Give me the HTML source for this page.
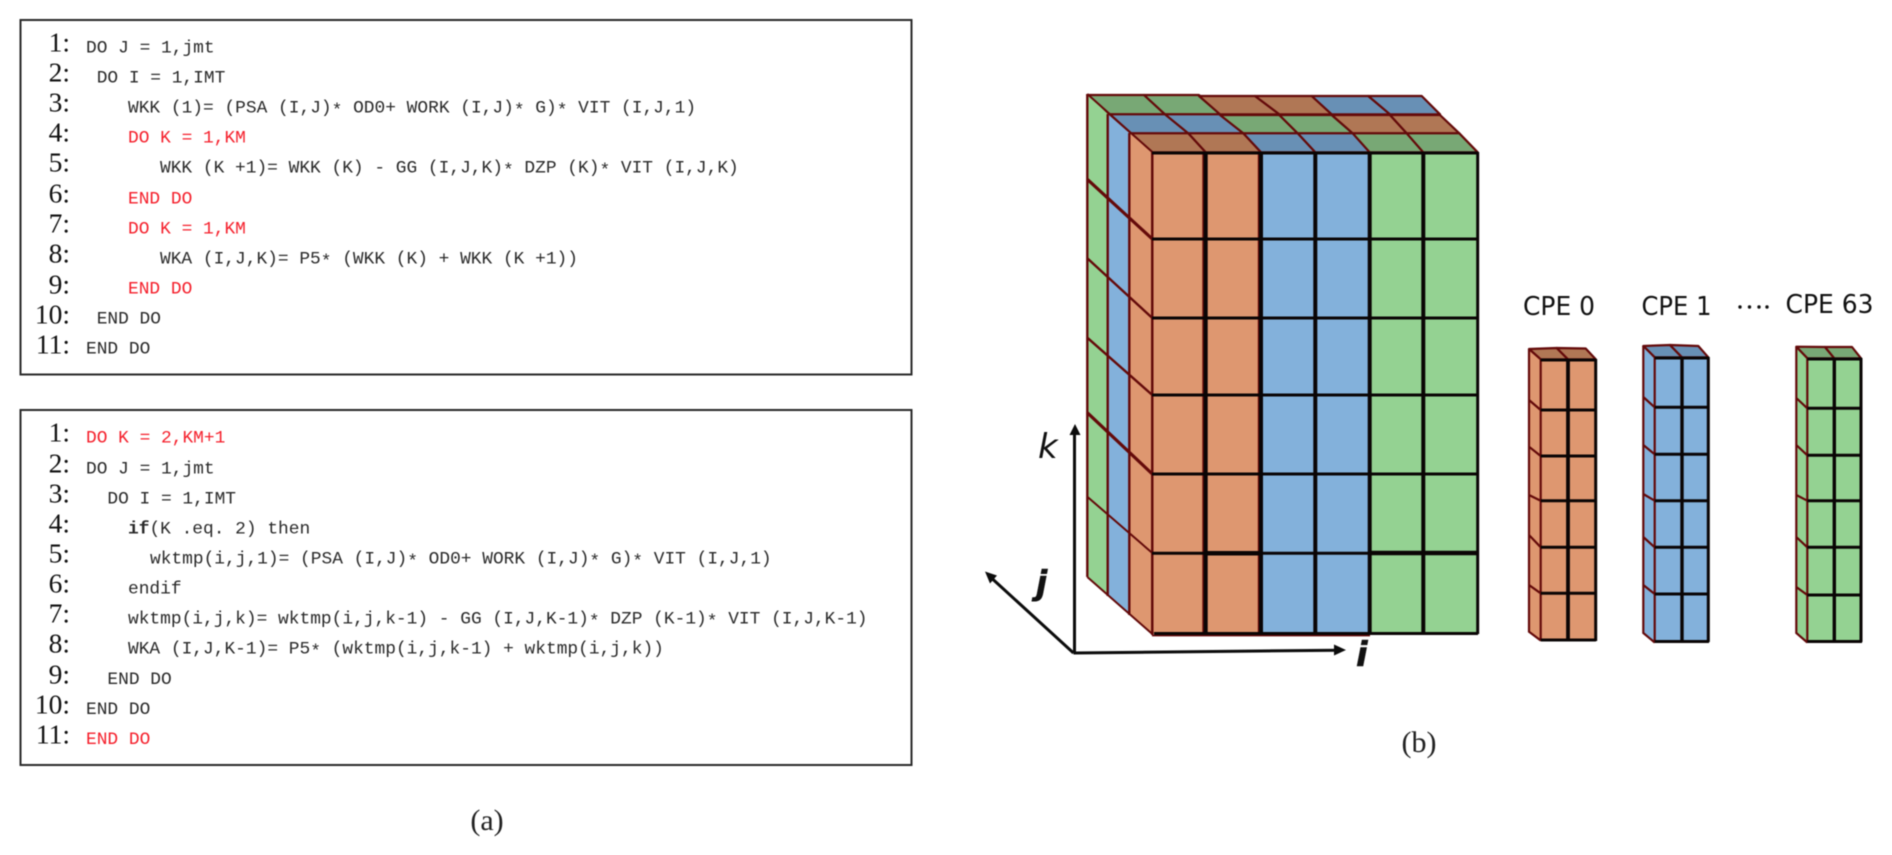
<!DOCTYPE html>
<html><head><meta charset="utf-8"><style>
html,body{margin:0;padding:0;background:#fff}
svg{display:block;filter:blur(.4px)}
.n{font:27.5px "Liberation Serif",serif;fill:#111;text-anchor:end}
.c{font:17.87px "Liberation Mono",monospace;fill:#2a2a2a;white-space:pre}
.s{baseline-shift:-3px}
.r{fill:#f5202c}
.l{font:30px "Liberation Serif",serif;fill:#222;text-anchor:middle}
.p{font:26px "DejaVu Sans",sans-serif;fill:#111}
.o{fill:#DE9770}.b{fill:#83B1DB}.g{fill:#94D292}
.to{fill:#B07755}.tb{fill:#6890B5}.tg{fill:#78A875}
.tp polygon{stroke:#640a0a;stroke-width:2.2;stroke-linejoin:round}
</style></head><body>
<svg width="1892" height="855" viewBox="0 0 1892 855" xmlns="http://www.w3.org/2000/svg">
<rect width="1892" height="855" fill="#fff"/>
<rect x="20.5" y="20" width="891" height="354.5" fill="#fff" stroke="#2a2a2a" stroke-width="2"/>
<rect x="20.5" y="410" width="891" height="355" fill="#fff" stroke="#2a2a2a" stroke-width="2"/>

<g class="n">
<text x="70" y="51.7">1:</text><text x="70" y="81.7">2:</text><text x="70" y="111.7">3:</text><text x="70" y="141.7">4:</text><text x="70" y="171.7">5:</text><text x="70" y="202.7">6:</text><text x="70" y="232.7">7:</text><text x="70" y="262.7">8:</text><text x="70" y="293.3">9:</text><text x="70" y="323.3">10:</text><text x="70" y="353.3">11:</text>
<text x="70" y="441.7">1:</text><text x="70" y="472.7">2:</text><text x="70" y="502.7">3:</text><text x="70" y="532.7">4:</text><text x="70" y="562.7">5:</text><text x="70" y="592.7">6:</text><text x="70" y="622.7">7:</text><text x="70" y="652.7">8:</text><text x="70" y="683.3">9:</text><text x="70" y="713.3">10:</text><text x="70" y="743.3">11:</text>
</g>

<g class="c">
<text x="86" y="52.7">DO J = 1,jmt</text>
<text x="96.7" y="82.7">DO I = 1,IMT</text>
<text x="128" y="112.7">WKK (1)= (PSA (I,J)<tspan class="s">*</tspan> OD0+ WORK (I,J)<tspan class="s">*</tspan> G)<tspan class="s">*</tspan> VIT (I,J,1)</text>
<text x="128" y="142.7" class="c r">DO K = 1,KM</text>
<text x="160" y="172.7">WKK (K +1)= WKK (K) - GG (I,J,K)<tspan class="s">*</tspan> DZP (K)<tspan class="s">*</tspan> VIT (I,J,K)</text>
<text x="128" y="203.3" class="c r">END DO</text>
<text x="128" y="233.3" class="c r">DO K = 1,KM</text>
<text x="160" y="263.3">WKA (I,J,K)= P5<tspan class="s">*</tspan> (WKK (K) + WKK (K +1))</text>
<text x="128" y="293.3" class="c r">END DO</text>
<text x="96.7" y="323.3">END DO</text>
<text x="86" y="353.3">END DO</text>

<text x="86" y="442.7" class="c r">DO K = 2,KM+1</text>
<text x="86" y="473.3">DO J = 1,jmt</text>
<text x="107.4" y="503.3">DO I = 1,IMT</text>
<text x="128" y="533.3"><tspan font-weight="bold">if</tspan>(K .eq. 2) then</text>
<text x="150" y="563.3">wktmp(i,j,1)= (PSA (I,J)<tspan class="s">*</tspan> OD0+ WORK (I,J)<tspan class="s">*</tspan> G)<tspan class="s">*</tspan> VIT (I,J,1)</text>
<text x="128" y="593.3">endif</text>
<text x="128" y="623.3">wktmp(i,j,k)= wktmp(i,j,k-1) - GG (I,J,K-1)<tspan class="s">*</tspan> DZP (K-1)<tspan class="s">*</tspan> VIT (I,J,K-1)</text>
<text x="128" y="653.3">WKA (I,J,K-1)= P5<tspan class="s">*</tspan> (wktmp(i,j,k-1) + wktmp(i,j,k))</text>
<text x="107.4" y="684">END DO</text>
<text x="86" y="714">END DO</text>
<text x="86" y="744" class="c r">END DO</text>
</g>

<text class="l" x="487" y="830">(a)</text>
<text class="l" x="1419" y="752">(b)</text>

<!-- big cube: top faces -->
<g class="tp">
<polygon class="tg" points="1087.3,95 1144,95 1165,114.3 1107.7,114.3"/>
<polygon class="tg" points="1144,95 1199,95 1220,114.3 1165,114.3"/>
<polygon class="to" points="1199,96 1255,96 1279.3,114.3 1220,114.3"/>
<polygon class="to" points="1255,96 1311.7,96 1331.7,114.3 1279.3,114.3"/>
<polygon class="tb" points="1311.7,96 1368.3,96 1390,114.3 1331.7,114.3"/>
<polygon class="tb" points="1368.3,96 1421.7,96 1440,114.3 1390,114.3"/>

<polygon class="tb" points="1107.7,114.3 1165,114.3 1188.3,133.3 1129.3,133.3"/>
<polygon class="tb" points="1165,114.3 1220,114.3 1243.3,133.3 1188.3,133.3"/>
<polygon class="tg" points="1220,115 1279.3,115 1297.7,133.3 1243.3,133.3"/>
<polygon class="tg" points="1279.3,115 1331.7,115 1352.7,133.3 1297.7,133.3"/>
<polygon class="to" points="1331.7,115 1390,115 1406.7,133.3 1352.7,133.3"/>
<polygon class="to" points="1390,115 1440,115 1459.3,133.3 1406.7,133.3"/>

<polygon class="to" points="1129.3,133.3 1188.3,133.3 1205.7,152.3 1152.3,152.3"/>
<polygon class="to" points="1188.3,133.3 1243.3,133.3 1261,152.3 1205.7,152.3"/>
<polygon class="tb" points="1243.3,133.3 1297.7,133.3 1315.3,152.3 1261,152.3"/>
<polygon class="tb" points="1297.7,133.3 1352.7,133.3 1369.7,152.3 1315.3,152.3"/>
<polygon class="tg" points="1352.7,133.3 1406.7,133.3 1423.3,152.3 1369.7,152.3"/>
<polygon class="tg" points="1406.7,133.3 1459.3,133.3 1477.7,152.3 1423.3,152.3"/>
</g>

<!-- big cube: side strips -->
<polygon class="g" points="1087.3,94 1107.7,114 1107.7,596 1087.3,577"/>
<polygon class="b" points="1107.7,114 1129.3,133 1129.3,615 1107.7,596"/>
<polygon class="o" points="1129.3,133 1152.3,152 1152.3,634 1129.3,615"/>
<g fill="none" stroke="#640a0a">
<path stroke-width="2.4" d="M1087.3,94V577M1107.7,114V596M1129.3,133V615M1152.3,152V634"/>
<path stroke-width="2" d="M1087.3,94L1152.3,152M1087.3,577L1152.3,634"/>
<path stroke-width="3.2" d="M1087.3,179.3L1152.3,239M1087.3,412.7L1152.3,474"/>
<path stroke-width="2.4" d="M1087.3,258.3L1152.3,318M1087.3,337.7L1152.3,395"/>
<path stroke-width="2" d="M1087.3,496.7L1152.3,553"/>
</g>

<!-- big cube: front -->
<rect class="o" x="1152.3" y="152.3" width="108.7" height="481.7"/>
<rect class="b" x="1261" y="152.3" width="108.7" height="481.7"/>
<rect class="g" x="1369.7" y="152.3" width="108" height="481.7"/>
<g fill="none" stroke="#640a0a">
<path stroke-width="2.4" d="M1152.3,152V635M1203.5,152V635M1259,152V635"/>
<path stroke-width="1.8" d="M1152,635.5H1370"/>
</g>
<g fill="none" stroke="#0a0505">
<path stroke-width="3" d="M1152,153H1478M1152,239H1478M1152,318H1478M1152,395H1478M1152,474H1478"/>
<path stroke-width="4" d="M1205.7,152V634M1261,152V634M1315.3,152V634M1369.7,152V634M1423.3,152V634"/>
<path stroke-width="3" d="M1477.7,152V634M1154,633.5H1478"/>
<path stroke-width="3" d="M1152,553.3H1206M1261,553.3H1370"/>
<path stroke-width="4.5" d="M1206,553.3H1261M1370,553H1478"/>
</g>

<!-- axes -->
<g fill="none" stroke="#0c0c0c" stroke-width="3">
<path d="M1074.5,653V432"/>
<path d="M1073.5,653L1338,650.2"/>
<path d="M1073.5,653L992,578.5"/>
</g>
<polygon fill="#0c0c0c" points="1075,424 1069.5,435 1080.5,435"/>
<polygon fill="#0c0c0c" points="1346,650 1334,644.5 1334,655.5"/>
<polygon fill="#0c0c0c" points="985,571.5 997,575.5 990,583.5"/>
<text x="1038" y="458" font-family="DejaVu Sans" font-style="italic" font-size="34" fill="#111">k</text>
<text x="1036" y="594" font-family="DejaVu Sans" font-style="italic" font-weight="bold" font-size="33" fill="#111" stroke="#111" stroke-width=".5">j</text>
<text x="1356" y="666" font-family="DejaVu Sans" font-style="italic" font-weight="bold" font-size="34" fill="#111" stroke="#111" stroke-width=".5">i</text>

<!-- CPE labels -->
<text class="p" x="1523" y="315" textLength="72" lengthAdjust="spacingAndGlyphs">CPE 0</text>
<text class="p" x="1641.5" y="315" textLength="70" lengthAdjust="spacingAndGlyphs">CPE 1</text>
<text class="p" x="1785.5" y="313" textLength="88" lengthAdjust="spacingAndGlyphs">CPE 63</text>
<g fill="#111"><circle cx="1740" cy="307" r="1.7"/><circle cx="1749.5" cy="307" r="1.7"/><circle cx="1759" cy="307" r="1.7"/><circle cx="1767" cy="307" r="1.7"/></g>

<!-- CPE 0 -->
<g class="tp">
<polygon class="to" points="1529,349 1556.7,348 1568,359.3 1540.7,359.3"/>
<polygon class="to" points="1556.7,348 1585.7,348.5 1595.7,359.3 1568,359.3"/>
</g>
<polygon class="o" points="1529,349 1540.7,359.3 1540.7,640 1529,631.7"/>
<rect class="o" x="1540.7" y="359.3" width="55" height="280.7"/>
<g fill="none" stroke="#640a0a" stroke-width="2.2">
<path d="M1529,349V631.7L1540.7,640.5M1529,349L1540.7,359.3M1529,400L1540.7,410M1529,446.7L1540.7,456M1529,495L1540.7,500.7M1529,535L1540.7,547.3M1529,585L1540.7,593.3M1540.7,359V641"/>
</g>
<g fill="none" stroke="#0a0505">
<path stroke-width="3" d="M1540.7,360H1596M1540.7,410H1596M1540.7,456H1596M1540.7,500.7H1596M1540.7,547.3H1596M1540.7,593.3H1596M1540.7,640H1596M1595.7,359V641"/>
<path stroke-width="3.8" d="M1568,359V640"/>
</g>

<!-- CPE 1 -->
<g class="tp">
<polygon class="tb" points="1643.3,346 1670,345 1682,357.3 1654.7,357.3"/>
<polygon class="tb" points="1670,345 1698.3,346 1708.3,357.3 1682,357.3"/>
</g>
<polygon class="b" points="1643.3,346 1654.7,357.3 1654.7,642 1643.3,633"/>
<rect class="b" x="1654.7" y="357.3" width="53.6" height="284.4"/>
<g fill="none" stroke="#640a0a" stroke-width="2.2">
<path d="M1643.3,346V633L1654.7,642.5M1643.3,346L1654.7,357.3M1643.3,397L1654.7,407.3M1643.3,445L1654.7,454.3M1643.3,494L1654.7,500.7M1643.3,537L1654.7,547.3M1643.3,585L1654.7,594M1654.7,357V643"/>
</g>
<g fill="none" stroke="#0a0505">
<path stroke-width="3" d="M1654.7,358H1709M1654.7,407.3H1709M1654.7,454.3H1709M1654.7,500.7H1709M1654.7,547.3H1709M1654.7,594H1709M1654.7,641.5H1709M1708.3,357V642"/>
<path stroke-width="3.4" d="M1682,357V641"/>
</g>

<!-- CPE 63 -->
<g class="tp">
<polygon class="tg" points="1796.3,346.7 1825,347 1834.3,358.3 1807.3,358.3"/>
<polygon class="tg" points="1825,347 1852,347 1861,358.3 1834.3,358.3"/>
</g>
<polygon class="g" points="1796.3,346.7 1807.3,358.3 1807.3,642 1796.3,633"/>
<rect class="g" x="1807.3" y="358.3" width="53.7" height="283.4"/>
<g fill="none" stroke="#640a0a" stroke-width="2.2">
<path d="M1796.3,346.7V633L1807.3,642.5M1796.3,346.7L1807.3,358.3M1796.3,398L1807.3,408.3M1796.3,445L1807.3,455.3M1796.3,495L1807.3,500.7M1796.3,537L1807.3,547.3M1796.3,587L1807.3,595M1807.3,358V643"/>
</g>
<g fill="none" stroke="#0a0505">
<path stroke-width="3" d="M1807.3,359H1862M1807.3,408.3H1862M1807.3,455.3H1862M1807.3,500.7H1862M1807.3,547.3H1862M1807.3,595H1862M1807.3,641.5H1862M1861,358V642"/>
<path stroke-width="3.4" d="M1834.3,358V641"/>
</g>
</svg>
</body></html>
